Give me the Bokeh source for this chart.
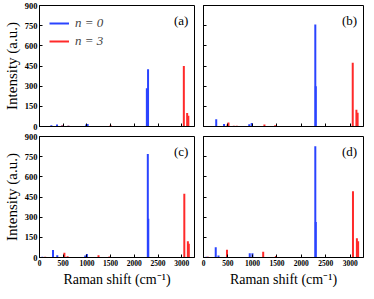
from bokeh.plotting import figure
from bokeh.layouts import gridplot
from bokeh.models import (Range1d, FixedTicker, Legend, LegendItem, Label,
                          CustomLabelingPolicy)
from bokeh.embed import file_html
from bokeh.resources import INLINE

X_MAX = 3270
Y_MAX = 900
x_ticks = [0, 500, 1000, 1500, 2000, 2500, 3000]
y_ticks = [0, 150, 300, 450, 600, 750, 900]
panel_labels = ["(a)", "(b)", "(c)", "(d)"]
series_names = ["n = 0", "n = 3"]
x_title = "Raman shift (cm\u207b\u00b9)"
y_title = "Intensity (a.u.)"

# panel (a)
a_n0_shift = [60, 250, 370, 480, 610, 985, 1015, 2265, 2290]
a_n0_int = [4, 10, 14, 8, 5, 14, 18, 285, 425]
a_n3_shift = [90, 480, 610, 1500, 3045, 3115, 3140]
a_n3_int = [4, 8, 5, 10, 450, 100, 80]

# panel (b)
b_n0_shift = [60, 260, 420, 935, 985, 2285, 2295]
b_n0_int = [4, 53, 19, 17, 26, 758, 300]
b_n3_shift = [160, 490, 510, 620, 680, 1245, 1465, 3050, 3125, 3150]
b_n3_int = [4, 15, 29, 5, 5, 14, 10, 475, 125, 103]

# panel (c)
c_n0_shift = [60, 285, 375, 965, 1000, 2285, 2295]
c_n0_int = [5, 55, 17, 14, 26, 770, 288]
c_n3_shift = [120, 525, 592, 1245, 1475, 3055, 3130, 3150]
c_n3_int = [5, 36, 10, 17, 8, 475, 120, 103]

# panel (d)
d_n0_shift = [60, 250, 306, 945, 1000, 2285, 2295]
d_n0_int = [5, 77, 15, 31, 31, 828, 264]
d_n3_shift = [90, 480, 1220, 1480, 3055, 3135, 3160]
d_n3_int = [5, 58, 43, 12, 492, 144, 120]

panels = [
    (a_n0_shift, a_n0_int, a_n3_shift, a_n3_int),
    (b_n0_shift, b_n0_int, b_n3_shift, b_n3_int),
    (c_n0_shift, c_n0_int, c_n3_shift, c_n3_int),
    (d_n0_shift, d_n0_int, d_n3_shift, d_n3_int),
]

BLUE = "#2a44ff"
RED = "#ff2a2a"
SERIF = "Liberation Serif"

NO_LABELS = "for (const i of indices) { if (i < 0) yield i; }"


def hide_labels(ax):
    ax.major_label_policy = CustomLabelingPolicy(code=NO_LABELS)
    ax.major_label_text_font_size = "1px"
    ax.major_label_standoff = 0


def make_panel(i):
    left = i % 2 == 0
    top = i < 2
    n0x, n0y, n3x, n3y = panels[i]
    p = figure(
        width=198 if left else 168,
        height=131 if top else 158,
        x_range=Range1d(0, X_MAX),
        y_range=Range1d(0, Y_MAX),
        output_backend="svg",
        toolbar_location=None,
        min_border_left=32 if left else 4,
        min_border_right=4 if left else 3,
        min_border_top=5,
        min_border_bottom=5 if top else 32,
    )
    p.xgrid.visible = False
    p.ygrid.visible = False
    p.outline_line_color = "black"
    p.outline_line_width = 1
    p.outline_line_alpha = 1

    for ax in (p.xaxis[0], p.yaxis[0]):
        ax.axis_line_color = "black"
        ax.major_tick_line_color = "black"
        ax.major_tick_in = 3
        ax.major_tick_out = 0
        ax.minor_tick_line_color = None
        ax.major_label_text_font = SERIF
        ax.major_label_text_font_style = "bold"
        ax.major_label_text_color = "black"
        ax.axis_label_text_font = SERIF
        ax.axis_label_text_font_style = "normal"
        ax.axis_label_text_color = "black"
    p.xaxis.ticker = FixedTicker(ticks=x_ticks)
    p.yaxis.ticker = FixedTicker(ticks=y_ticks)

    if left:
        p.yaxis.major_label_text_font_size = "8.5px"
        p.yaxis.major_label_standoff = 2
        p.yaxis.axis_label = y_title
        p.yaxis.axis_label_text_font_size = "15px"
        p.yaxis.axis_label_standoff = 2
    else:
        hide_labels(p.yaxis[0])

    if top:
        hide_labels(p.xaxis[0])
    else:
        p.xaxis.major_label_text_font_size = "7.5px"
        p.xaxis.major_label_standoff = 2
        p.xaxis.axis_label = x_title
        p.xaxis.axis_label_text_font_size = "14px"
        p.xaxis.axis_label_standoff = 3

    r0 = p.segment(x0=n0x, y0=[0] * len(n0x), x1=n0x, y1=n0y,
                   line_color=BLUE, line_width=2)
    r3 = p.segment(x0=n3x, y0=[0] * len(n3x), x1=n3x, y1=n3y,
                   line_color=RED, line_width=2)

    p.add_layout(Label(x=X_MAX - 130, y=Y_MAX - 55, text=panel_labels[i],
                       text_align="right", text_baseline="top",
                       text_font=SERIF, text_font_size="13px",
                       text_color="black"))

    if i == 0:
        legend = Legend(
            items=[LegendItem(label=series_names[0], renderers=[r0]),
                   LegendItem(label=series_names[1], renderers=[r3])],
            location="top_left",
            label_text_font=SERIF,
            label_text_font_size="13px",
            label_text_font_style="italic",
            background_fill_alpha=0,
            border_line_alpha=0,
            glyph_width=20,
            glyph_height=16,
            label_standoff=6,
            spacing=2,
            padding=4,
            margin=6,
        )
        p.add_layout(legend)
    return p


figs = [make_panel(i) for i in range(4)]
grid = gridplot([[figs[0], figs[1]], [figs[2], figs[3]]], toolbar_location=None)

open("out.html", "w").write(file_html(grid, INLINE))
